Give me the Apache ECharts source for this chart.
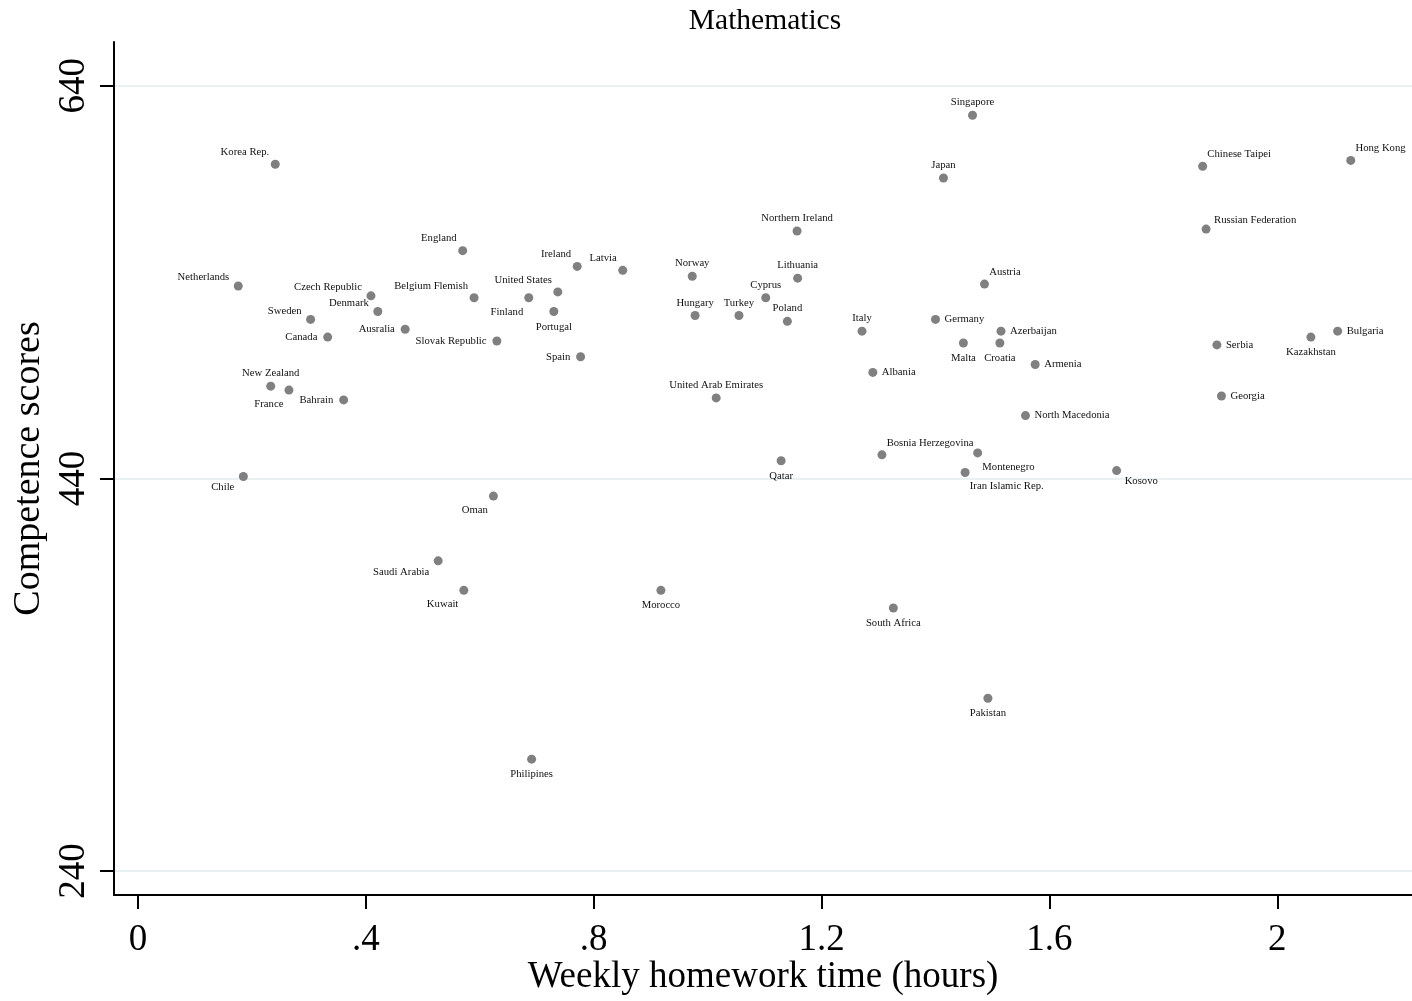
<!DOCTYPE html>
<html>
<head>
<meta charset="utf-8">
<title>Mathematics</title>
<script src="https://cdn.jsdelivr.net/npm/echarts@6/dist/echarts.min.js"></script>
<style>
    html, body { margin: 0; padding: 0; background: #fff; }
    #chart { width: 1412px; height: 1001px; }
</style>
</head>
<body>
<div id="chart"></div>
<script>
var countries = ['Korea Rep.', 'England', 'Ireland', 'Latvia', 'Netherlands', 'Czech Republic', 'Belgium Flemish',
    'United States', 'Finland', 'Denmark', 'Portugal', 'Sweden', 'Ausralia', 'Canada', 'Slovak Republic', 'Spain',
    'New Zealand', 'France', 'Bahrain', 'Chile', 'Oman', 'Saudi Arabia', 'Kuwait', 'Philipines', 'Singapore', 'Japan',
    'Northern Ireland', 'Norway', 'Lithuania', 'Austria', 'Cyprus', 'Hungary', 'Turkey', 'Poland', 'Italy', 'Germany',
    'Azerbaijan', 'Malta', 'Croatia', 'Armenia', 'Albania', 'United Arab Emirates', 'Qatar', 'Bosnia Herzegovina',
    'Montenegro', 'Iran Islamic Rep.', 'North Macedonia', 'Morocco', 'South Africa', 'Chinese Taipei', 'Hong Kong',
    'Russian Federation', 'Bulgaria', 'Kazakhstan', 'Serbia', 'Georgia', 'Kosovo', 'Pakistan'];

// weekly homework time (hours)
var homework = [0.241, 0.570, 0.771, 0.851, 0.176, 0.409, 0.590,
    0.737, 0.686, 0.421, 0.730, 0.303, 0.469, 0.333, 0.630, 0.777,
    0.233, 0.265, 0.361, 0.185, 0.624, 0.527, 0.572, 0.691, 1.465, 1.414,
    1.157, 0.973, 1.158, 1.486, 1.102, 0.978, 1.055, 1.140, 1.271, 1.400,
    1.515, 1.449, 1.513, 1.575, 1.290, 1.015, 1.129, 1.306,
    1.474, 1.452, 1.558, 0.918, 1.326, 1.869, 2.129,
    1.875, 2.106, 2.059, 1.894, 1.902, 1.718, 1.492];

// competence scores
var scores = [600, 556, 548, 546, 538, 533, 532,
    535, 532, 525, 525, 521, 516, 512, 510, 502,
    487, 485, 480, 441, 431, 398, 383, 297, 625, 593,
    566, 543, 542, 539, 532, 523, 523, 520, 515, 521,
    515, 509, 509, 498, 494, 481, 449, 452,
    453, 443, 472, 383, 374, 599, 602,
    567, 515, 512, 508, 482, 444, 328];

var xTicks = [0, 0.4, 0.8, 1.2, 1.6, 2];
var yTicks = [240, 440, 640];

var serif = '"Liberation Serif", "Times New Roman", serif';

// where each label sits round its marker (clock position, like Stata mlabvpos)
var clockOf = {
    12: ['Singapore', 'Japan', 'Northern Ireland', 'Norway', 'Lithuania', 'Cyprus', 'Hungary', 'Turkey', 'Poland',
        'Italy', 'United Arab Emirates', 'New Zealand'],
    11: ['Korea Rep.', 'England', 'Ireland', 'Latvia', 'Belgium Flemish', 'United States'],
    10: ['Netherlands', 'Czech Republic', 'Sweden', 'Denmark'],
    9: ['Ausralia', 'Canada', 'Slovak Republic', 'Spain', 'Bahrain'],
    8: ['Chile', 'Saudi Arabia'],
    7: ['Finland', 'France', 'Oman', 'Kuwait'],
    6: ['Portugal', 'Malta', 'Croatia', 'Kazakhstan', 'Qatar', 'Morocco', 'South Africa', 'Pakistan', 'Philipines'],
    5: ['Montenegro', 'Iran Islamic Rep.'],
    4: ['Kosovo'],
    3: ['Germany', 'Azerbaijan', 'Armenia', 'Albania', 'North Macedonia', 'Bulgaria', 'Serbia', 'Georgia'],
    2: ['Russian Federation'],
    1: ['Austria', 'Chinese Taipei', 'Hong Kong', 'Bosnia Herzegovina']
};

// label anchor relative to the 9x9 symbol box (centre at 4.5, 4.5)
var c = 4.5;
var clockLabel = {
    12: { position: [c, c - 12.7], align: 'center', verticalAlign: 'middle' },
    11: { position: [c - 6, c - 12], align: 'right', verticalAlign: 'middle' },
    10: { position: [c - 9, c - 8.5], align: 'right', verticalAlign: 'middle' },
    9: { position: [c - 10.3, c], align: 'right', verticalAlign: 'middle' },
    8: { position: [c - 9, c + 11], align: 'right', verticalAlign: 'middle' },
    7: { position: [c - 5.5, c + 14], align: 'right', verticalAlign: 'middle' },
    6: { position: [c, c + 15.3], align: 'center', verticalAlign: 'middle' },
    5: { position: [c + 4.7, c + 14], align: 'left', verticalAlign: 'middle' },
    4: { position: [c + 8, c + 11], align: 'left', verticalAlign: 'middle' },
    3: { position: [c + 9, c], align: 'left', verticalAlign: 'middle' },
    2: { position: [c + 8, c - 8.5], align: 'left', verticalAlign: 'middle' },
    1: { position: [c + 4.7, c - 12], align: 'left', verticalAlign: 'middle' }
};

function labelFor(name) {
    for (var k in clockOf) {
        if (clockOf[k].indexOf(name) >= 0) return clockLabel[k];
    }
    return clockLabel[12];
}

var points = countries.map(function (name, i) {
    return { name: name, value: [homework[i], scores[i]], label: labelFor(name) };
});

var myChart = echarts.init(document.getElementById('chart'));

var option = {
    animation: false,
    backgroundColor: '#fff',
    title: {
        text: 'Mathematics',
        left: 760,
        textAlign: 'center',
        top: 1,
        textStyle: { fontFamily: serif, fontSize: 29.5, fontWeight: 'normal', color: '#000' }
    },
    grid: { left: 114, right: 0, top: 42, bottom: 106, outerBoundsMode: 'none', containLabel: false },
    xAxis: {
        type: 'value',
        min: -0.0421,
        max: 2.2365,
        name: 'Weekly homework time (hours)',
        nameLocation: 'middle',
        nameGap: 64,
        nameMoveOverlap: false,
        nameTextStyle: { fontFamily: serif, fontSize: 37, color: '#000' },
        axisLine: { show: true, onZero: false, lineStyle: { color: '#000', width: 2 } },
        axisTick: { show: true, customValues: xTicks, length: 14, lineStyle: { color: '#000', width: 2 } },
        axisLabel: {
            customValues: xTicks,
            margin: 27,
            fontFamily: serif,
            fontSize: 37,
            color: '#000',
            formatter: function (v) {
                return String(+v.toFixed(1)).replace(/^0\./, '.');
            }
        },
        splitLine: { show: false }
    },
    yAxis: {
        type: 'value',
        min: 227.8,
        max: 662.3,
        name: 'Competence scores',
        nameLocation: 'middle',
        nameGap: 48,
        nameTextStyle: { fontFamily: serif, fontSize: 38, color: '#000' },
        axisLine: { show: true, onZero: false, lineStyle: { color: '#000', width: 2 } },
        axisTick: { show: true, customValues: yTicks, length: 14, lineStyle: { color: '#000', width: 2 } },
        axisLabel: {
            customValues: yTicks,
            rotate: 90,
            margin: 21,
            fontFamily: serif,
            fontSize: 37,
            color: '#000'
        },
        splitLine: { show: false }
    },
    series: [
        {
            // horizontal grid lines at the labelled ticks
            type: 'line',
            data: [],
            z: 0,
            silent: true,
            markLine: {
                silent: true,
                z: 0,
                symbol: ['none', 'none'],
                label: { show: false },
                lineStyle: { color: '#e9f1f3', width: 2, type: 'solid' },
                data: yTicks.map(function (v) { return { yAxis: v }; })
            }
        },
        {
            type: 'scatter',
            z: 5,
            symbolSize: 9,
            itemStyle: { color: '#808080', opacity: 1 },
            label: {
                show: true,
                formatter: '{b}',
                fontFamily: serif,
                fontSize: 10.7,
                color: '#111'
            },
            data: points
        }
    ]
};

myChart.setOption(option);
</script>
</body>
</html>
